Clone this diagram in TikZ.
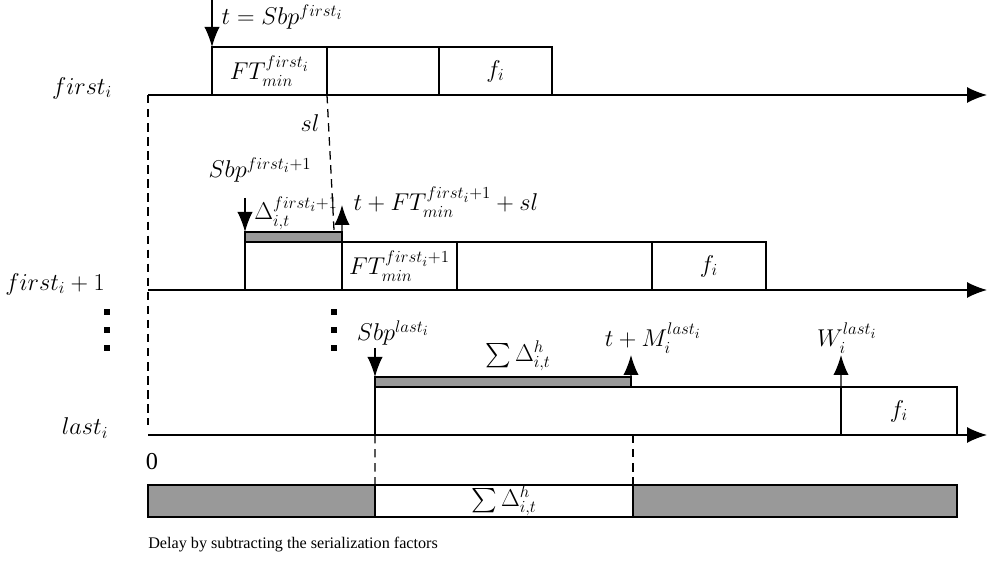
\documentclass[tikz,border=0pt]{standalone}
\usepackage{amsmath,amssymb}
\usepackage{fontspec}
\setmainfont{Liberation Serif}
\usepackage{tikz}
\usetikzlibrary{arrows.meta}
\definecolor{bargray}{RGB}{153,153,153}

\begin{document}
\begin{tikzpicture}[
  slot/.style={rectangle,draw=black,line width=2pt,fill=white,anchor=south west,inner sep=0pt,outer sep=0pt,minimum height=1.2cm,font=\LARGE},
  delaybar/.style={rectangle,draw=black,line width=2pt,fill=bargray,anchor=south west,inner sep=0pt,outer sep=0pt,minimum height=0.25cm,font=\LARGE},
  lbl/.style={inner sep=1pt,font=\LARGE},
  timeline/.style={draw=black,line width=1pt,-{Latex[length=5mm,width=4mm]}},
  timearrow/.style={draw=black,line width=0.9pt,-{Latex[length=5mm,width=3.8mm]}},
  guide/.style={draw=black,line width=0.9pt,dash pattern=on 6pt off 4pt},
  dot/.style={rectangle,fill=black,inner sep=0pt,minimum size=0.16cm}
]
\useasboundingbox (0,0) rectangle (24.7,14.125);
\coordinate (a1) at (3.7,11.75); \coordinate (b1) at (24.675,11.75);
\coordinate (a2) at (3.7,6.875); \coordinate (b2) at (24.675,6.875);
\coordinate (a3) at (3.7,3.25); \coordinate (b3) at (24.675,3.25);
\draw[timeline] (a1) -- (b1); \draw[timeline] (a2) -- (b2); \draw[timeline] (a3) -- (b3);
\node[lbl] (l1) at (2.05,11.925) {$first_i$};
\node[lbl] (l2) at (1.375,7.025) {$first_i+1$};
\node[lbl] (l3) at (2.125,3.425) {$last_i$};
\node[slot,minimum width=2.875cm] (r1a) at (5.3,11.75) {$FT^{first_i}_{min}$};
\node[slot,minimum width=2.8cm] (r1b) at (r1a.south east) {};
\node[slot,minimum width=2.825cm] (r1c) at (r1b.south east) {$f_i$};
\coordinate (s1) at (5.3,14.125);
\draw[timearrow] (s1) -- (r1a.north west);
\node[lbl,anchor=west] (t1) at (5.5,13.7) {$t=Sbp^{first_i}$};
\coordinate (d1) at (3.7,3.5); \coordinate (d2) at (8.425,6.925);
\draw[guide] (a1) -- (d1); \draw[guide] (r1a.south east) -- (d2);
\node[lbl] (sl) at (7.75,11.05) {$sl$};
\node[slot,minimum width=2.425cm] (r2a) at (6.125,6.875) {};
\node[slot,minimum width=2.875cm] (r2b) at (r2a.south east) {$FT^{first_i+1}_{min}$};
\node[slot,minimum width=4.875cm] (r2c) at (r2b.south east) {};
\node[slot,minimum width=2.85cm] (r2d) at (r2c.south east) {$f_i$};
\node[delaybar,minimum width=2.425cm] (g2) at (r2a.north west) {};
\coordinate (s2) at (6.125,9.175); \coordinate (e2) at (8.55,9.0);
\draw[timearrow] (s2) -- (g2.north west); \draw[timearrow] (g2.north east) -- (e2);
\node[lbl] (t2) at (6.5,9.875) {$Sbp^{first_i+1}$};
\node[lbl] (t3) at (7.4,8.8) {$\Delta^{first_i+1}_{i,t}$};
\node[lbl,anchor=west] (t4) at (8.8,9.075) {$t+FT^{first_i+1}_{min}+sl$};
\node[dot] (v1) at (2.675,6.325) {}; \node[dot] (v2) at (2.675,5.875) {}; \node[dot] (v3) at (2.675,5.425) {};
\node[dot] (v4) at (8.35,6.325) {}; \node[dot] (v5) at (8.35,5.875) {}; \node[dot] (v6) at (8.35,5.425) {};
\node[slot,minimum width=11.65cm] (r3a) at (9.375,3.25) {};
\node[slot,minimum width=2.9cm] (r3b) at (r3a.south east) {$f_i$};
\node[delaybar,minimum width=6.4cm] (g3) at (r3a.north west) {};
\coordinate (s3) at (9.375,5.425); \coordinate (e3) at (15.775,5.25); \coordinate (w3) at (21.025,5.25);
\draw[timearrow] (s3) -- (g3.north west); \draw[timearrow] (g3.north east) -- (e3); \draw[timearrow] (r3a.north east) -- (w3);
\node[lbl] (t5) at (9.825,5.8) {$Sbp^{last_i}$};
\node[lbl] (t6) at (12.95,5.225) {$\sum\Delta^h_{i,t}$};
\node[lbl] (t7) at (16.325,5.675) {$t+M^{last_i}_i$};
\node[lbl] (t8) at (21.175,5.675) {$W^{last_i}_i$};
\node[inner sep=1pt,font=\LARGE] (zero) at (3.8,2.575) {0};
\node[delaybar,minimum width=5.675cm,minimum height=0.8cm] (z1) at (3.7,1.2) {};
\node[slot,minimum width=6.45cm,minimum height=0.8cm] (z2) at (z1.south east) {$\sum\Delta^h_{i,t}$};
\node[delaybar,minimum width=8.1cm,minimum height=0.8cm] (z3) at (z2.south east) {};
\draw[guide] (r3a.south west) -- (z2.north west); \draw[guide] (z2.north east |- r3a.south) -- (z2.north east);
\node[anchor=west,inner sep=0pt,font=\fontsize{11.5}{14}\selectfont] (cap) at (3.7,0.5) {Delay by subtracting the serialization factors};
\end{tikzpicture}
\end{document}
